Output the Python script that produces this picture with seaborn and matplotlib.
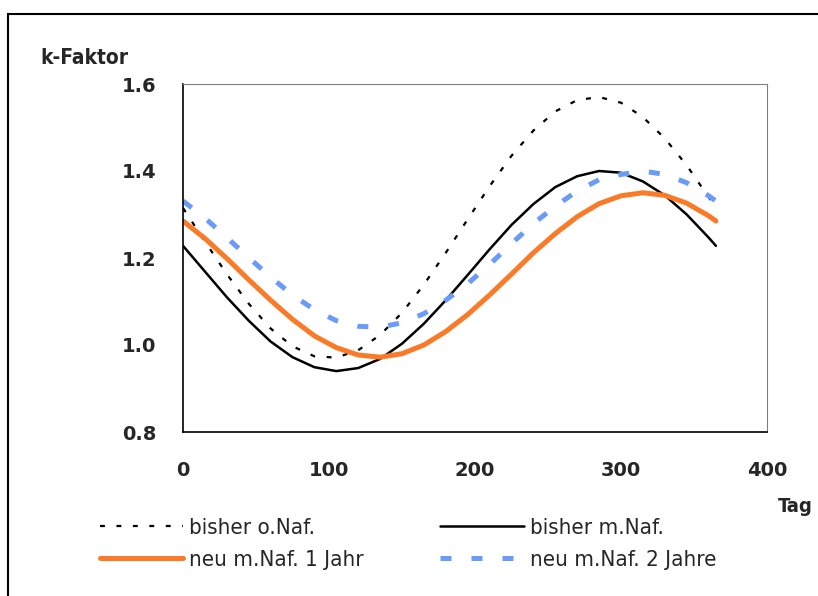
import numpy as np
import pandas as pd
import seaborn as sns
import matplotlib.pyplot as plt
from matplotlib.patches import Rectangle

# Tage (x) und k-Faktor je Variante
tage = [0, 15, 30, 45, 60, 75, 90, 105, 120, 135, 150, 165, 180,
        195, 210, 225, 240, 255, 270, 285, 300, 315, 330, 345, 360, 365]
bisher_o_naf = [1.315, 1.238, 1.163, 1.095, 1.038, 0.997, 0.974, 0.971, 0.988,
                1.023, 1.074, 1.139, 1.212, 1.289, 1.365, 1.435, 1.493, 1.537,
                1.563, 1.570, 1.557, 1.524, 1.475, 1.413, 1.340, 1.315]
bisher_m_naf = [1.228, 1.169, 1.110, 1.056, 1.008, 0.972, 0.949, 0.940, 0.947,
                0.968, 1.003, 1.049, 1.103, 1.161, 1.220, 1.276, 1.324, 1.363,
                1.388, 1.400, 1.396, 1.376, 1.344, 1.300, 1.247, 1.228]
neu_1_jahr = [1.285, 1.245, 1.199, 1.150, 1.103, 1.059, 1.021, 0.994, 0.977,
              0.972, 0.980, 1.000, 1.031, 1.070, 1.115, 1.163, 1.212, 1.256,
              1.295, 1.325, 1.343, 1.350, 1.344, 1.326, 1.297, 1.285]
neu_2_jahre = [1.331, 1.292, 1.247, 1.201, 1.156, 1.115, 1.081, 1.056, 1.043,
               1.041, 1.051, 1.072, 1.103, 1.141, 1.185, 1.233, 1.279, 1.319,
               1.354, 1.380, 1.392, 1.400, 1.392, 1.373, 1.343, 1.331]

labels = ['bisher o.Naf.', 'bisher m.Naf.', 'neu m.Naf. 1 Jahr', 'neu m.Naf. 2 Jahre']
x_ticks = [0, 100, 200, 300, 400]
y_ticks = [0.8, 1.0, 1.2, 1.4, 1.6]

sns.set_style('white')
plt.rcParams['font.family'] = ['DejaVu Sans']

fig = plt.figure(figsize=(8.18, 5.96), dpi=100)
ax = fig.add_axes([183/818, 164/596, 584/818, 348/596])

df = pd.DataFrame({'Tag': tage, 'o': bisher_o_naf, 'm': bisher_m_naf,
                   'n1': neu_1_jahr, 'n2': neu_2_jahre})

sns.lineplot(data=df, x='Tag', y='o', ax=ax, color='black', lw=1.6,
             linestyle=(0, (2.2, 5.2)), label=labels[0])
sns.lineplot(data=df, x='Tag', y='m', ax=ax, color='black', lw=1.8,
             label=labels[1])
sns.lineplot(data=df, x='Tag', y='n1', ax=ax, color='#FA7A28', lw=3.6,
             solid_capstyle='round', label=labels[2])
sns.lineplot(data=df, x='Tag', y='n2', ax=ax, color='#6B9BF8', lw=3.6,
             linestyle=(0, (2.2, 4.0)), label=labels[3])

ax.set_xlim(0, 400)
ax.set_ylim(0.8, 1.6)
ax.set_xticks(x_ticks)
ax.set_yticks(y_ticks)
ax.set_xticklabels([str(v) for v in x_ticks])
ax.set_yticklabels([f'{v:.1f}' for v in y_ticks])
ax.set_xlabel('')
ax.set_ylabel('')
ax.tick_params(axis='both', length=0, labelsize=14)
ax.tick_params(axis='y', pad=19)
ax.tick_params(axis='x', pad=21)
for t in ax.get_xticklabels() + ax.get_yticklabels():
    t.set_fontweight('bold')

for s in ['left', 'bottom']:
    ax.spines[s].set_color('black')
    ax.spines[s].set_linewidth(1.2)
for s in ['top', 'right']:
    ax.spines[s].set_color('#808080')
    ax.spines[s].set_linewidth(0.8)

# Achsentitel
fig.text(40/818, 1 - 58/596, 'k-Faktor', ha='left', va='center',
         fontsize=15, fontweight='bold', fontstretch='condensed')
fig.text(813/818, 1 - 507/596, 'Tag', ha='right', va='center',
         fontsize=14.5, fontweight='bold', fontstretch='condensed')

# Legende unten, zeilenweise wie im Original
h, l = ax.get_legend_handles_labels()
order = [0, 2, 1, 3]
ax.legend([h[i] for i in order], [l[i] for i in order], ncol=2,
          loc='upper left', bbox_to_anchor=(100/818, 1 - 518/596),
          bbox_transform=fig.transFigure, frameon=False, borderpad=0,
          borderaxespad=0, handlelength=3.74, handletextpad=0.27,
          columnspacing=3.45, labelspacing=0.55,
          prop={'size': 16, 'stretch': 'condensed'})

# Rahmen um die Grafik
fig.patches.append(Rectangle((8/818, -0.1), 1.2, 1.1 - 14/596, fill=False,
                             edgecolor='black', lw=1.5,
                             transform=fig.transFigure, figure=fig))

fig.savefig('out.png', dpi=100)
